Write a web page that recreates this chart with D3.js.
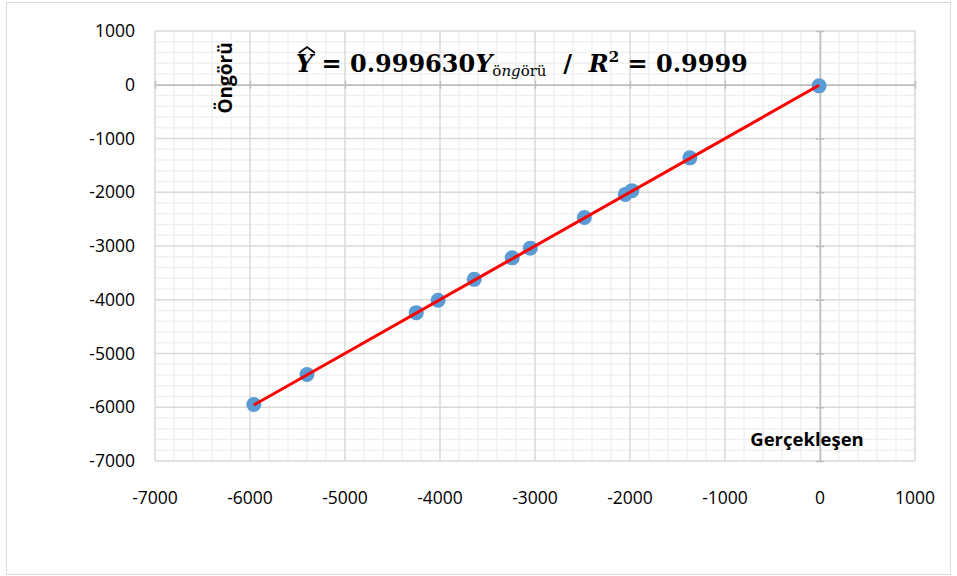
<!DOCTYPE html>
<html>
<head>
<meta charset="utf-8">
<script src="https://cdn.jsdelivr.net/npm/d3@7"></script>
<style>
  body { margin: 0; background: #fff; }
  svg text { font-family: "Open Sans", "Noto Sans", sans-serif; }
</style>
</head>
<body>
<div id="chart"></div>
<script>
// Gerçekleşen (actual) vs Öngörü (forecast)
const actual   = [-5960, -5400, -4250, -4020, -3640, -3240, -3050, -2480, -2050, -1980, -1370, -10];
const forecast = [-5950, -5390, -4240, -4010, -3620, -3220, -3040, -2470, -2040, -1970, -1360, -20];
const slope = 0.999630;
const xTicks = [-7000, -6000, -5000, -4000, -3000, -2000, -1000, 0, 1000];
const yTicks = [1000, 0, -1000, -2000, -3000, -4000, -5000, -6000, -7000];

const W = 957, H = 576;
const margin = { top: 31, right: 42, bottom: 115, left: 155 };
const width = W - margin.left - margin.right;
const height = H - margin.top - margin.bottom;

const svg = d3.select("#chart").append("svg")
  .attr("width", W).attr("height", H);

// chart border
svg.append("rect")
  .attr("x", 6.5).attr("y", 2.5).attr("width", 944).attr("height", 572)
  .attr("fill", "none").attr("stroke", "#d9d9d9");

const g = svg.append("g").attr("transform", `translate(${margin.left},${margin.top})`);

const x = d3.scaleLinear().domain([-7000, 1000]).range([0, width]);
const y = d3.scaleLinear().domain([-7000, 1000]).range([height, 0]);

// minor grid (every 200)
const minor = d3.range(-7000, 1001, 200).filter(v => v % 1000 !== 0);
g.append("g").selectAll("line").data(minor).join("line")
  .attr("x1", d => x(d)).attr("x2", d => x(d)).attr("y1", 0).attr("y2", height)
  .attr("stroke", "#f0f0f0").attr("stroke-width", 1.5);
g.append("g").selectAll("line").data(minor).join("line")
  .attr("y1", d => y(d)).attr("y2", d => y(d)).attr("x1", 0).attr("x2", width)
  .attr("stroke", "#f0f0f0").attr("stroke-width", 1.5);

// major grid
g.append("g").selectAll("line").data(xTicks).join("line")
  .attr("x1", d => x(d)).attr("x2", d => x(d)).attr("y1", 0).attr("y2", height)
  .attr("stroke", "#d9d9d9").attr("stroke-width", 1.5);
g.append("g").selectAll("line").data(yTicks).join("line")
  .attr("y1", d => y(d)).attr("y2", d => y(d)).attr("x1", 0).attr("x2", width)
  .attr("stroke", "#d9d9d9").attr("stroke-width", 1.5);

// zero axes with small ticks
const yAxis0 = d3.axisLeft(y).tickValues(yTicks).tickSize(4).tickSizeOuter(0).tickFormat("");
g.append("g").attr("transform", `translate(${x(0)},0)`).call(yAxis0)
  .call(s => s.selectAll("path,line").attr("stroke", "#bfbfbf").attr("stroke-width", 1.5))
  .call(s => s.selectAll(".tick line").attr("x2", 4).attr("x1", -4));
const xAxis0 = d3.axisBottom(x).tickValues(xTicks).tickSize(4).tickSizeOuter(0).tickFormat("");
g.append("g").attr("transform", `translate(0,${y(0)})`).call(xAxis0)
  .call(s => s.selectAll("path,line").attr("stroke", "#bfbfbf").attr("stroke-width", 1.5))
  .call(s => s.selectAll(".tick line").attr("y1", -4).attr("y2", 4));

// tick labels
g.append("g").selectAll("text").data(yTicks).join("text")
  .attr("x", -20).attr("y", d => y(d)).attr("dy", "0.35em")
  .attr("text-anchor", "end").attr("font-size", 17.5).attr("fill", "#000")
  .text(d => d);
g.append("g").selectAll("text").data(xTicks).join("text")
  .attr("x", d => x(d)).attr("y", height + 43)
  .attr("text-anchor", "middle").attr("font-size", 17.5).attr("fill", "#000")
  .text(d => d);

// trend line
const xr = d3.extent(actual);

// points
g.append("g").selectAll("circle").data(actual).join("circle")
  .attr("cx", d => x(d)).attr("cy", (d, i) => y(forecast[i]))
  .attr("r", 7.5).attr("fill", "#5b9bd5");
g.append("line")
  .attr("x1", x(xr[0])).attr("y1", y(slope * xr[0]))
  .attr("x2", x(xr[1])).attr("y2", y(slope * xr[1]))
  .attr("stroke", "#ff0000").attr("stroke-width", 3);

// axis titles
svg.append("text")
  .attr("transform", "translate(232,78) rotate(-90)")
  .attr("text-anchor", "middle").attr("font-size", 19).attr("font-weight", "bold")
  .text("Öngörü");
svg.append("text")
  .attr("x", 807).attr("y", 446)
  .attr("text-anchor", "middle").attr("font-size", 18.5).attr("font-weight", "bold")
  .text("Gerçekleşen");

// equation
const eq = svg.append("text")
  .attr("x", 296).attr("y", 72)
  .attr("font-size", 24).attr("font-weight", "bold")
  .style("font-family", "'DejaVu Serif', 'Liberation Serif', serif");
eq.append("tspan").attr("font-style", "italic").text("Y");
eq.append("tspan").text(" = 0.999630");
eq.append("tspan").attr("font-style", "italic").text("Y");
const sub = eq.append("tspan").attr("font-size", 15).attr("font-weight", "normal").attr("dy", 4);
sub.append("tspan").text("ö");
sub.append("tspan").attr("font-style", "italic").text("ng");
sub.append("tspan").attr("font-style", "normal").text("örü");
eq.append("tspan").attr("dy", -4).attr("xml:space", "preserve").text("\u00a0\u00a0/\u00a0\u00a0");
eq.append("tspan").attr("font-style", "italic").text("R");
eq.append("tspan").attr("font-size", 15).attr("dy", -10).text("2");
eq.append("tspan").attr("dy", 10).text(" = 0.9999");
// hat over Y
svg.append("path")
  .attr("d", "M299,53 L307,47 L315,53")
  .attr("fill", "none").attr("stroke", "#000").attr("stroke-width", 1.8);
</script>
</body>
</html>
